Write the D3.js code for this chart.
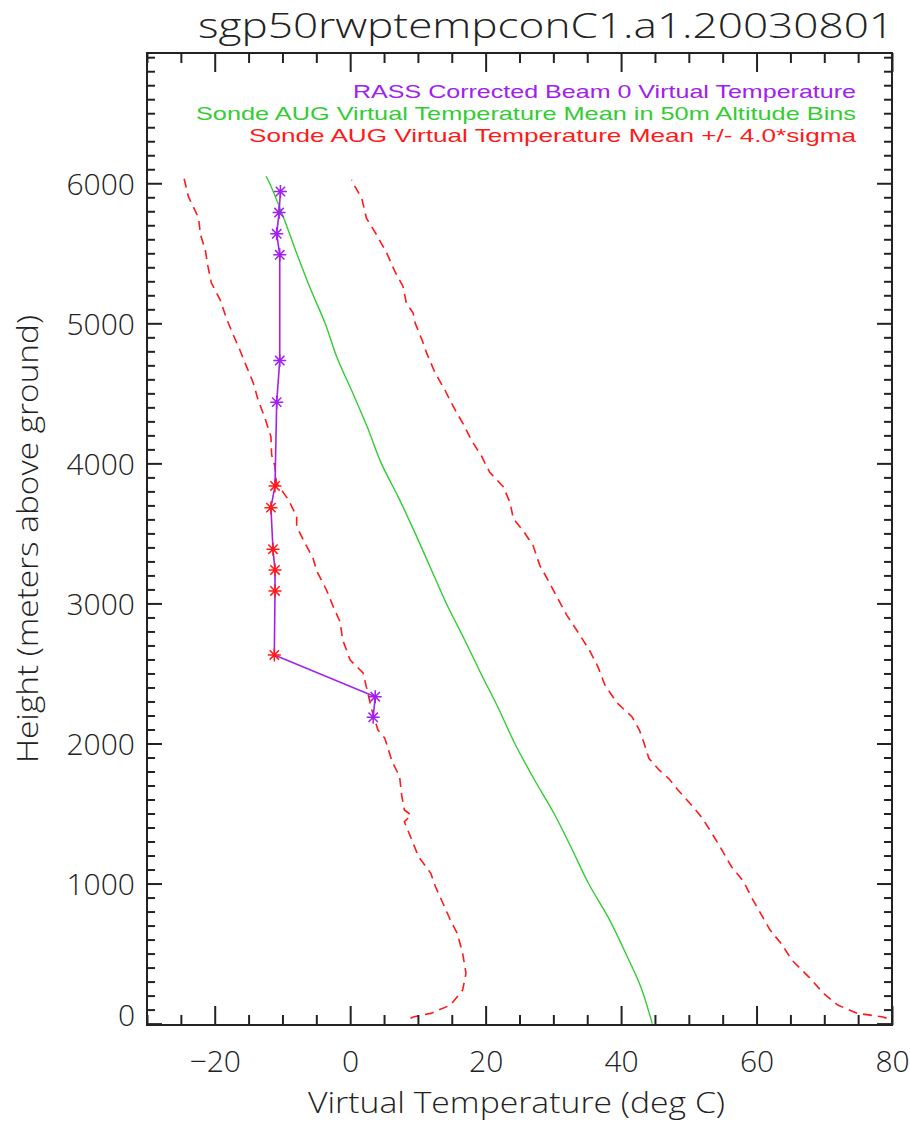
<!DOCTYPE html>
<html><head><meta charset="utf-8">
<script src="https://cdn.jsdelivr.net/npm/d3@7"></script>
<style>
body{margin:0;background:#fff;}
svg{display:block;}
text{font-family:"Open Sans","DejaVu Sans",sans-serif;font-weight:300;}
text.legend{font-family:"Liberation Sans",Arimo,"DejaVu Sans",sans-serif;font-weight:400;}
</style></head><body>
<svg id="chart" width="910" height="1122"></svg>
<script>
// ---------- texts ----------
const titleText = "sgp50rwptempconC1.a1.20030801";
const xTitle = "Virtual Temperature (deg C)";
const yTitle = "Height (meters above ground)";
const legendLabels = [
  "RASS Corrected Beam 0 Virtual Temperature",
  "Sonde AUG Virtual Temperature Mean in 50m Altitude Bins",
  "Sonde AUG Virtual Temperature Mean +/- 4.0*sigma"
];
const legendColors = ["#a020f0", "#33cc33", "#ff1a1a"];

// ---------- ticks ----------
const xTickValues = [-20, 0, 20, 40, 60, 80];
const xTickLabels = ["\u221220", "0", "20", "40", "60", "80"];
const xMinorValues = [-30,-25,-15,-10,-5,5,10,15,25,30,35,45,50,55,65,70,75];
const yTickValues = [0, 1000, 2000, 3000, 4000, 5000, 6000];
const yTickLabels = ["0", "1000", "2000", "3000", "4000", "5000", "6000"];
const yMinorValues = d3.range(100, 6901, 100).filter(v => v % 1000 !== 0);

// ---------- data ----------
// Sonde mean virtual temperature (green)
const meanH = [0, 100, 250, 500, 750, 1000, 1250, 1500, 1750, 2000, 2250, 2500, 2750, 3000, 3250, 3500, 3750, 4000, 4250, 4500, 4750, 5000, 5250, 5500, 5750, 6000, 6050];
const meanT = [44.6, 44.0, 43.0, 40.7, 38.2, 35.2, 32.7, 30.1, 27.1, 24.3, 21.9, 19.3, 16.8, 14.2, 11.9, 9.6, 7.2, 4.6, 2.6, 0.4, -1.9, -3.7, -5.9, -7.9, -9.8, -11.9, -12.4];

// Mean - 4 sigma (left red dashed)
const lowH = [39, 49, 73, 132, 239, 359, 504, 646, 739, 859, 977, 1073, 1191, 1311, 1441, 1489, 1525, 1632, 1763, 1870, 1977, 2039, 2096, 2239, 2361, 2504, 2596, 2739, 2870, 2977, 3096, 3227, 3325, 3432, 3549, 3620, 3739, 3861, 3977, 4061, 4191, 4325, 4454, 4573, 4691, 4811, 4932, 5039, 5168, 5289, 5406, 5525, 5632, 5754, 5906, 6049];
const lowT = [8.9, 9.4, 11.9, 14.8, 16.6, 17.1, 16.6, 15.8, 14.8, 13.7, 12.6, 11.9, 10.1, 9.1, 8.0, 9.0, 8.0, 7.6, 7.3, 6.2, 5.5, 5.1, 4.1, 3.2, 2.6, 1.9, 0.0, -1.1, -1.5, -2.5, -3.5, -4.9, -5.5, -6.7, -7.9, -7.9, -9.1, -10.9, -11.1, -11.6, -11.7, -12.6, -13.6, -14.3, -15.3, -16.3, -17.4, -18.3, -19.2, -20.5, -21.0, -21.4, -22.1, -22.4, -23.9, -24.6];

// Mean + 4 sigma (right red dashed)
const upH = [39, 49, 73, 132, 216, 334, 454, 561, 668, 787, 906, 1013, 1120, 1239, 1359, 1466, 1549, 1668, 1751, 1811, 1894, 2001, 2096, 2191, 2290, 2418, 2546, 2660, 2775, 2915, 3030, 3158, 3272, 3413, 3515, 3604, 3719, 3834, 3936, 4051, 4165, 4280, 4408, 4522, 4650, 4787, 4882, 5001, 5073, 5144, 5263, 5370, 5501, 5632, 5751, 5894, 5977, 6025];
const upT = [79.2, 78.5, 74.9, 72.0, 69.9, 67.7, 65.2, 63.8, 62.0, 60.6, 59.2, 58.1, 56.3, 54.9, 53.4, 52.0, 50.6, 48.4, 47.0, 45.6, 44.1, 43.4, 42.7, 41.6, 39.4, 37.6, 36.6, 35.4, 33.9, 32.0, 30.7, 29.3, 28.0, 27.0, 25.6, 24.1, 23.6, 22.6, 20.6, 19.4, 17.9, 16.7, 15.2, 14.0, 12.5, 11.3, 10.6, 9.6, 9.3, 8.3, 7.8, 6.6, 5.4, 3.9, 2.4, 1.7, 0.7, 0.2];

// RASS corrected beam 0 virtual temperature (purple), flag = outside envelope
const rassH = [2187, 2334, 2632, 3089, 3239, 3387, 3684, 3839, 4437, 4734, 5489, 5639, 5791, 5941];
const rassT = [3.4, 3.7, -11.2, -11.1, -11.1, -11.4, -11.7, -11.1, -10.85, -10.4, -10.4, -10.85, -10.5, -10.3];
const rassFlag = [0, 0, 1, 1, 1, 1, 1, 1, 0, 0, 0, 0, 0, 0];

// ---------- layout ----------
const plotL = 147, plotR = 892, plotT = 53, plotB = 1025;
const x = d3.scaleLinear().domain([-30, 80]).range([plotL, plotR]);
const y = d3.scaleLinear().domain([-10, 6930]).range([plotB, plotT]);

const svg = d3.select("#chart");
const axisColor = "#222";

// data lines
const zipped = (hs, ts) => hs.map((h, i) => ({h, t: ts[i]}));
const line = d3.line().x(d => x(d.t)).y(d => y(d.h));
const smoothLine = d3.line().x(d => x(d.t)).y(d => y(d.h)).curve(d3.curveMonotoneY);

const plot = svg.append("g");
plot.append("path").datum(zipped(lowH, lowT)).attr("d", line)
  .attr("fill", "none").attr("stroke", legendColors[2]).attr("stroke-width", 1.6).attr("stroke-dasharray", "9,6");
plot.append("path").datum(zipped(upH, upT)).attr("d", line)
  .attr("fill", "none").attr("stroke", legendColors[2]).attr("stroke-width", 1.6).attr("stroke-dasharray", "9,6");
plot.append("path").datum(zipped(meanH, meanT)).attr("d", smoothLine)
  .attr("fill", "none").attr("stroke", legendColors[1]).attr("stroke-width", 1.4);

const rass = rassH.map((h, i) => ({h, t: rassT[i], f: rassFlag[i]}));
plot.append("path").datum(rass).attr("d", line)
  .attr("fill", "none").attr("stroke", legendColors[0]).attr("stroke-width", 1.6);

const starPath = (s) => {
  const d = s * 0.72;
  return `M${-s},0L${s},0M0,${-s}L0,${s}M${-d},${-d}L${d},${d}M${-d},${d}L${d},${-d}`;
};
plot.selectAll("path.star").data(rass).join("path").attr("class", "star")
  .attr("transform", d => `translate(${x(d.t)},${y(d.h)})`)
  .attr("d", starPath(6.5))
  .attr("fill", "none")
  .attr("stroke", d => d.f ? legendColors[2] : legendColors[0])
  .attr("stroke-width", 1.5);

// ---------- axes ----------
function styleAxis(g) {
  g.select(".domain").remove();
  g.selectAll("line").attr("stroke", axisColor).attr("stroke-width", 2);
}
// bottom
svg.append("g").attr("transform", `translate(0,${plotB})`)
  .call(d3.axisBottom(x).tickValues(xMinorValues).tickSize(-10).tickFormat(""))
  .call(styleAxis);
const xb = svg.append("g").attr("transform", `translate(0,${plotB})`)
  .call(d3.axisBottom(x).tickValues(xTickValues).tickSize(-19).tickFormat((d, i) => xTickLabels[i]))
  .call(styleAxis);
xb.selectAll("text").attr("y", 47).attr("dy", null)
  .attr("fill", axisColor).attr("font-size", 30).attr("font-family", null);
// top
svg.append("g").attr("transform", `translate(0,${plotT})`)
  .call(d3.axisTop(x).tickValues(xMinorValues).tickSize(-10).tickFormat(""))
  .call(styleAxis);
svg.append("g").attr("transform", `translate(0,${plotT})`)
  .call(d3.axisTop(x).tickValues(xTickValues).tickSize(-19).tickFormat(""))
  .call(styleAxis);
// left
svg.append("g").attr("transform", `translate(${plotL},0)`)
  .call(d3.axisLeft(y).tickValues(yMinorValues).tickSize(-8).tickFormat(""))
  .call(styleAxis);
const yl = svg.append("g").attr("transform", `translate(${plotL},0)`)
  .call(d3.axisLeft(y).tickValues(yTickValues).tickSize(-15).tickFormat((d, i) => yTickLabels[i]))
  .call(styleAxis);
yl.selectAll("text").attr("x", -12).attr("dy", "0.36em")
  .attr("y", d => Math.min(0, (plotB - 10) - y(d)))
  .attr("fill", axisColor).attr("font-size", 30).attr("font-family", null);
// right
svg.append("g").attr("transform", `translate(${plotR},0)`)
  .call(d3.axisRight(y).tickValues(yMinorValues).tickSize(-8).tickFormat(""))
  .call(styleAxis);
svg.append("g").attr("transform", `translate(${plotR},0)`)
  .call(d3.axisRight(y).tickValues(yTickValues).tickSize(-15).tickFormat(""))
  .call(styleAxis);

// frame
svg.append("rect").attr("x", plotL).attr("y", plotT)
  .attr("width", plotR - plotL).attr("height", plotB - plotT)
  .attr("fill", "none").attr("stroke", axisColor).attr("stroke-width", 2);

// ---------- texts ----------
svg.append("text").text(titleText)
  .attr("x", 198).attr("y", 38).attr("font-size", 34).attr("fill", axisColor)
  .attr("textLength", 696).attr("lengthAdjust", "spacingAndGlyphs");

const legendX = [353, 196, 249];
const legendW = [503, 660, 607];
const legendY = [98, 120, 142];
legendLabels.forEach((s, i) => {
  svg.append("text").attr("class", "legend").text(s)
    .attr("x", legendX[i]).attr("y", legendY[i])
    .attr("font-size", 19).attr("fill", legendColors[i])
    .attr("textLength", legendW[i]).attr("lengthAdjust", "spacingAndGlyphs");
});

svg.append("text").text(xTitle)
  .attr("x", 308).attr("y", 1113).attr("font-size", 30).attr("fill", axisColor)
  .attr("textLength", 417).attr("lengthAdjust", "spacingAndGlyphs");

svg.append("text").text(yTitle)
  .attr("transform", `translate(38,${(plotT + plotB) / 2 + 224}) rotate(-90)`)
  .attr("x", 0).attr("y", 0).attr("font-size", 30).attr("fill", axisColor)
  .attr("textLength", 448).attr("lengthAdjust", "spacingAndGlyphs");
</script>
</body></html>
